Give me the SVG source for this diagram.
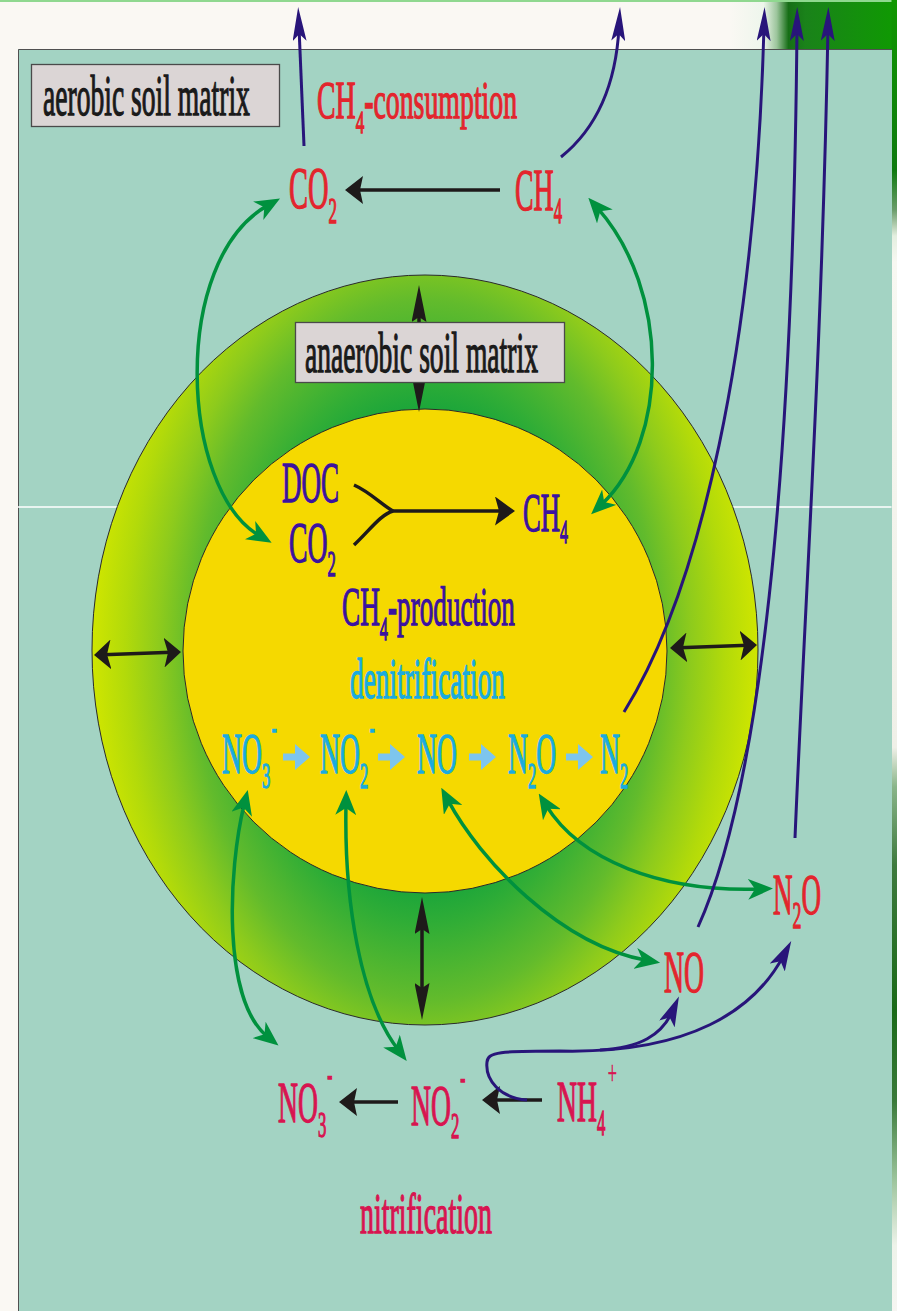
<svg xmlns="http://www.w3.org/2000/svg" width="897" height="1311" viewBox="0 0 897 1311">
<defs>
<style>
.t{font-family:"Liberation Serif","Times New Roman",serif;stroke-width:1.3}
.red{fill:#e3252d;stroke:#e3252d}
.ind{fill:#3b12a0;stroke:#3b12a0}
.cy{fill:#19abe0;stroke:#19abe0}
.crim{fill:#d81450;stroke:#d81450}
.blk{fill:#1a1a1a;stroke:#1a1a1a}
.ci{fill:none;stroke:#28157a;stroke-width:3}
.cg{fill:none;stroke:#00913e;stroke-width:3.5}
.ck{fill:none;stroke:#1e1a1a;stroke-width:3.5}
.box{fill:#dbd5d5;stroke:#4a4a4a;stroke-width:1.3}
.b{font-weight:bold}
</style>
<linearGradient id="rs" x1="0" y1="0" x2="0" y2="1">
<stop offset="0" stop-color="#109800"/>
<stop offset="0.13" stop-color="#0f7a10"/>
<stop offset="0.16" stop-color="#6a9c6a"/>
<stop offset="0.18" stop-color="#e4efe0"/>
<stop offset="0.2" stop-color="#f8f8f2"/>
<stop offset="0.57" stop-color="#f0f0e8"/>
<stop offset="0.6" stop-color="#8ab58a"/>
<stop offset="0.66" stop-color="#3e7a3e"/>
<stop offset="0.77" stop-color="#1a6a18"/>
<stop offset="0.84" stop-color="#3a7a3a"/>
<stop offset="0.9" stop-color="#9cc49c"/>
<stop offset="0.95" stop-color="#eef3ea"/>
<stop offset="1" stop-color="#f6f6f2"/>
</linearGradient>
<linearGradient id="tg" gradientUnits="userSpaceOnUse" x1="730" y1="0" x2="897" y2="0">
<stop offset="0" stop-color="#faf8f3"/>
<stop offset="0.2" stop-color="#eef6ec"/>
<stop offset="0.28" stop-color="#9cc59c"/>
<stop offset="0.35" stop-color="#166e16"/>
<stop offset="0.45" stop-color="#1a821a"/>
<stop offset="1" stop-color="#0f9a02"/>
</linearGradient>
<radialGradient id="ring" gradientUnits="userSpaceOnUse" cx="425" cy="650" r="333" gradientTransform="translate(425 650) scale(1 1.5) translate(-425 -650)">
<stop offset="0.45" stop-color="#12a23c"/>
<stop offset="0.55" stop-color="#30ad36"/>
<stop offset="0.7" stop-color="#62bb2c"/>
<stop offset="0.8" stop-color="#8ecb1c"/>
<stop offset="0.9" stop-color="#b2da0a"/>
<stop offset="1" stop-color="#cfe600"/>
</radialGradient>
<path id="ba" d="M0,-3.5H12V-13L27,0L12,13V3.5H0Z" fill="#7dc5ee"/>
<marker id="mInd" viewBox="-34 -7 34 14" markerWidth="34" markerHeight="14" refX="-20" refY="0" orient="auto" markerUnits="userSpaceOnUse"><path d="M0,0L-34,-7L-27,0L-34,7Z" fill="#28157a"/></marker>
<marker id="mIndB" viewBox="-30 -8.5 30 17" markerWidth="30" markerHeight="17" refX="-16" refY="0" orient="auto" markerUnits="userSpaceOnUse"><path d="M0,0L-30,-8.5L-23,0L-30,8.5Z" fill="#28157a"/></marker>
<marker id="mGrn" viewBox="-25 -10.5 25 21" markerWidth="25" markerHeight="21" refX="-14" refY="0" orient="auto-start-reverse" markerUnits="userSpaceOnUse"><path d="M0,0L-25,-10.5L-18,0L-25,10.5Z" fill="#00913e"/></marker>
<marker id="mBlk" viewBox="-18 -14 18 28" markerWidth="18" markerHeight="28" refX="-9" refY="0" orient="auto" markerUnits="userSpaceOnUse"><path d="M0,0L-18,-14L-15,0L-18,14Z" fill="#1e1a1a"/></marker>
<marker id="mBlkF" viewBox="-20 -14.5 20 29" markerWidth="20" markerHeight="29" refX="-10" refY="0" orient="auto" markerUnits="userSpaceOnUse"><path d="M0,0L-20,-14.5L-16,0L-20,14.5Z" fill="#1e1a1a"/></marker>
<marker id="mBlkH" viewBox="-17 -15 17 30" markerWidth="17" markerHeight="30" refX="-9" refY="0" orient="auto-start-reverse" markerUnits="userSpaceOnUse"><path d="M0,0L-17,-15L-13,0L-17,15Z" fill="#1e1a1a"/></marker>
<marker id="mBlkV" viewBox="-37 -7.5 37 15" markerWidth="37" markerHeight="15" refX="-20" refY="0" orient="auto-start-reverse" markerUnits="userSpaceOnUse"><path d="M0,0L-37,-7.5L-32,0L-37,7.5Z" fill="#1e1a1a"/></marker>
</defs>

<g id="background">
<rect x="0" y="0" width="897" height="1311" fill="#faf8f3"/>
<rect x="730" y="0" width="167" height="49" fill="url(#tg)"/>
<rect x="0" y="0" width="897" height="2" fill="#8fd88f"/>
<rect x="891.5" y="0" width="5.5" height="1311" fill="url(#rs)"/>
<rect x="18" y="49" width="874" height="1262" fill="#a3d3c3"/>
<path d="M18.5,1311V49.5H892" fill="none" stroke="#505050" stroke-width="1"/>
<line x1="18" y1="507" x2="891.5" y2="507" stroke="#ffffff" stroke-width="1.5"/>
</g>

<g id="zones">
<ellipse cx="425" cy="650" rx="333" ry="375" fill="url(#ring)" stroke="#2a2a2a" stroke-width="1"/>
<circle cx="425" cy="651" r="242" fill="#f5d900" stroke="#2a2a2a" stroke-width="1"/>
</g>

<g id="connectors">
<path class="ck" d="M500,190H354" stroke-width="5" marker-end="url(#mBlk)"/>
<path class="ck" d="M398,1102H348" stroke-width="5" marker-end="url(#mBlk)"/>
<path class="ck" d="M542,1100H491" stroke-width="5" marker-end="url(#mBlk)"/>
<path class="ck" d="M354,485C370,492 382,505 393,511M354,545C370,530 380,515 393,511" stroke-width="4"/>
<path class="ck" d="M393,511H505" stroke-width="4" marker-end="url(#mBlkF)"/>
<path class="ck" d="M419,305V392" stroke-width="3" marker-start="url(#mBlkV)" marker-end="url(#mBlkV)"/>
<path class="ck" d="M422,917V1000" stroke-width="3" marker-start="url(#mBlkV)" marker-end="url(#mBlkV)"/>
<path class="ck" d="M103,654.7L172,652.3" stroke-width="4" marker-start="url(#mBlkH)" marker-end="url(#mBlkH)"/>
<path class="ck" d="M679,647.7L748,645.3" stroke-width="4" marker-start="url(#mBlkH)" marker-end="url(#mBlkH)"/>
<use href="#ba" x="283" y="757"/>
<use href="#ba" x="378" y="757"/>
<use href="#ba" x="469" y="757"/>
<use href="#ba" x="566" y="757"/>
<path class="cg" d="M259.5,535.7C180,490 170,260 267.8,205.4" stroke-width="3.8" marker-start="url(#mGrn)" marker-end="url(#mGrn)"/>
<path class="cg" d="M597.6,208.2C670,290 670,440 601.3,504.7" stroke-width="3.2" marker-start="url(#mGrn)" marker-end="url(#mGrn)"/>
<path class="cg" d="M244.4,803.5C228,870 222,1000 267.6,1036.8" stroke-width="3" marker-start="url(#mGrn)" marker-end="url(#mGrn)"/>
<path class="cg" d="M346,804C344,900 360,1000 398.2,1049.8" stroke-width="3" marker-start="url(#mGrn)" marker-end="url(#mGrn)"/>
<path class="cg" d="M447.9,800.2C480,860 560,945 646.3,960.3" stroke-width="4.5" marker-start="url(#mGrn)" marker-end="url(#mGrn)"/>
<path class="cg" d="M546.1,805.4C580,860 660,892 759,889" stroke-width="4.5" marker-start="url(#mGrn)" marker-end="url(#mGrn)"/>
<path class="ci" d="M304,146L299,27" marker-end="url(#mInd)"/>
<path class="ci" d="M561,157C597,128 616,85 619,27" stroke-width="4" marker-end="url(#mInd)"/>
<path class="ci" d="M624,712C700,590 755,350 764,27" marker-end="url(#mInd)"/>
<path class="ci" d="M698,927C760,790 793,480 797,27" marker-end="url(#mInd)"/>
<path class="ci" d="M795,838C805,600 822,350 828,27" marker-end="url(#mInd)"/>
<path class="ci" d="M527,1100C500,1098 485,1080 487,1062C488,1052 500,1051 560,1051C690,1054 755,1010 783.8,955.1" stroke-width="4.5" marker-end="url(#mIndB)"/>
<path class="ci" d="M600,1050C640,1048 662,1035 672.5,1011.1" stroke-width="4.5" marker-end="url(#mIndB)"/>
</g>

<g id="aerobic-soil-matrix"><rect class="box" x="31.5" y="64.5" width="248" height="62"/><text class="t blk" font-size="56" transform="translate(43,115) scale(0.493,1)">aerobic soil matrix</text></g>
<g id="anaerobic-soil-matrix"><rect class="box" x="295.5" y="322.5" width="269" height="60"/><text class="t blk" font-size="56" transform="translate(305,372) scale(0.493,1)">anaerobic soil matrix</text></g>
<g id="ch4-consumption"><text class="t red" font-size="52" transform="translate(317,118) scale(0.535,1)">CH<tspan font-size="32" y="15">4</tspan><tspan y="0" class="b">-</tspan><tspan>consumption</tspan></text></g>
<g id="co2-top"><text class="t red" font-size="60" transform="translate(289,208) scale(0.474,1)">CO<tspan font-size="36" y="15">2</tspan></text></g>
<g id="ch4-top"><text class="t red" font-size="60" transform="translate(515,210) scale(0.464,1)">CH<tspan font-size="36" y="13">4</tspan></text></g>
<g id="doc"><text class="t ind" font-size="58" transform="translate(282,502) scale(0.466,1)">DOC</text></g>
<g id="co2-in"><text class="t ind" font-size="58" transform="translate(289,562) scale(0.479,1)">CO<tspan font-size="35" y="14">2</tspan></text></g>
<g id="ch4-in"><text class="t ind" font-size="55" transform="translate(523,531) scale(0.484,1)">CH<tspan font-size="33" y="12">4</tspan></text></g>
<g id="ch4-production"><text class="t ind" font-size="55" transform="translate(342,625) scale(0.495,1)">CH<tspan font-size="33" y="15">4</tspan><tspan y="0" class="b">-</tspan><tspan>production</tspan></text></g>
<g id="denitrification"><text class="t cy" font-size="56" transform="translate(350,698) scale(0.489,1)">denitrification</text></g>
<g id="no3-in"><text class="t cy" font-size="58" transform="translate(222,773) scale(0.477,1)">NO<tspan font-size="35" y="15">3</tspan><tspan class="b" font-size="32" y="-35" dx="3">-</tspan></text></g>
<g id="no2-in"><text class="t cy" font-size="58" transform="translate(320,773) scale(0.477,1)">NO<tspan font-size="35" y="15">2</tspan><tspan class="b" font-size="32" y="-35" dx="3">-</tspan></text></g>
<g id="no-in"><text class="t cy" font-size="58" transform="translate(417,773) scale(0.477,1)">NO</text></g>
<g id="n2o-in"><text class="t cy" font-size="58" transform="translate(508,773) scale(0.477,1)">N<tspan font-size="35" y="15">2</tspan><tspan y="0">O</tspan></text></g>
<g id="n2-in"><text class="t cy" font-size="58" transform="translate(600,773) scale(0.477,1)">N<tspan font-size="35" y="15">2</tspan></text></g>
<g id="no-out"><text class="t red" font-size="60" transform="translate(664,992) scale(0.462,1)">NO</text></g>
<g id="n2o-out"><text class="t red" font-size="58" transform="translate(773,914) scale(0.467,1)">N<tspan font-size="38" y="14">2</tspan><tspan y="0">O</tspan></text></g>
<g id="no3-out"><text class="t crim" font-size="58" transform="translate(278,1122) scale(0.477,1)">NO<tspan font-size="35" y="15">3</tspan><tspan class="b" font-size="32" y="-37" dx="2">-</tspan></text></g>
<g id="no2-out"><text class="t crim" font-size="58" transform="translate(411,1125) scale(0.477,1)">NO<tspan font-size="35" y="13">2</tspan><tspan class="b" font-size="32" y="-37" dx="2">-</tspan></text></g>
<g id="nh4"><text class="t crim" font-size="58" transform="translate(557,1121) scale(0.477,1)">NH<tspan font-size="35" y="14">4</tspan><tspan font-size="34" y="-37" dx="5" stroke-width="0.6">+</tspan></text></g>
<g id="nitrification"><text class="t crim" font-size="56" transform="translate(360,1233) scale(0.499,1)">nitrification</text></g>
</svg>
